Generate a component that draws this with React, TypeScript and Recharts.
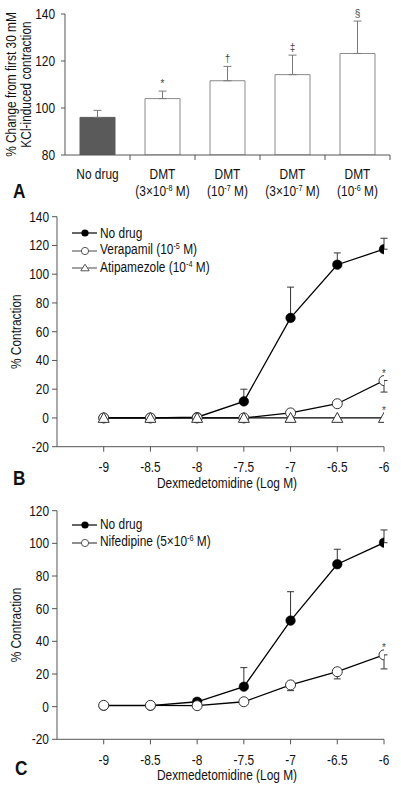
import React from 'react';
import {
  ComposedChart,
  Bar,
  Cell,
  Line,
  LineChart,
  XAxis,
  YAxis,
  ErrorBar,
  LabelList,
  Legend,
} from 'recharts';

const FONT = "'Liberation Sans', Arial, sans-serif";
const SX = 0.85;
const TXT = '#111';
const AX = '#555';

// ---------- Panel A data ----------
const aNames = ['No drug', 'DMT', 'DMT', 'DMT', 'DMT'];
const aDoseBase = ['', '(3×10', '(10', '(3×10', '(10'];
const aDoseExp = ['', '-8', '-7', '-7', '-6'];
const aValues = [96, 104, 111.6, 114.2, 123.2];
const aErrors = [3, 3.2, 6.1, 8.3, 13.8];
const aSig = ['', '*', '†', '‡', '§'];
const aTicks = [80, 100, 120, 140];

// ---------- Panels B / C data ----------
const doses = [-9, -8.5, -8, -7.5, -7, -6.5, -6];
const bYTicks = [-20, 0, 20, 40, 60, 80, 100, 120, 140];
const cYTicks = [-20, 0, 20, 40, 60, 80, 100, 120];

const bNoDrug = [0, 0, 0.5, 11.5, 69.6, 106.6, 117.4];
const bNoDrugErrUp = [null, null, null, 8.5, 21.4, 8.2, 7.6];
const bVerapamil = [0, 0, 0, 0, 3.5, 9.9, 26];
const bVerapamilErrDown = [null, null, null, null, null, null, 8];
const bVerapamilSig = ['', '', '', '', '', '', '*'];
const bAtipamezole = [0, 0, 0, 0, 0, 0, 0];
const bAtipamezoleSig = ['', '', '', '', '', '', '*'];

const cNoDrug = [0.6, 0.6, 3, 12.2, 52.7, 87.2, 100.4];
const cNoDrugErrUp = [null, null, null, 11.7, 17.7, 9.2, 7.8];
const cNifedipine = [0.8, 0.8, 0.6, 3, 13.3, 21.4, 31.7];
const cNifedipineErrDown = [null, null, null, null, 3.5, 4.4, 8.6];
const cNifedipineSig = ['', '', '', '', '', '', '*'];

const aTable = aNames.map((n, i) => ({
  key: i,
  value: aValues[i],
  err: [0, aErrors[i]],
  top: aValues[i] + aErrors[i],
  sig: aSig[i],
}));

const bTable = doses.map((d, i) => ({
  x: d,
  nd: bNoDrug[i],
  ndErr: bNoDrugErrUp[i] == null ? null : [0, bNoDrugErrUp[i]],
  ver: bVerapamil[i],
  verErr: bVerapamilErrDown[i] == null ? null : [bVerapamilErrDown[i], 0],
  verSig: bVerapamilSig[i],
  ati: bAtipamezole[i],
  atiSig: bAtipamezoleSig[i],
}));

const cTable = doses.map((d, i) => ({
  x: d,
  nd: cNoDrug[i],
  ndErr: cNoDrugErrUp[i] == null ? null : [0, cNoDrugErrUp[i]],
  nif: cNifedipine[i],
  nifErr: cNifedipineErrDown[i] == null ? null : [cNifedipineErrDown[i], 0],
  nifSig: cNifedipineSig[i],
}));

type LegendItem = { pre: string; exp?: string; post?: string; marker: 'filled' | 'open' | 'tri'; lineColor: string };
const bLegend: LegendItem[] = [
  { pre: 'No drug', marker: 'filled', lineColor: '#000' },
  { pre: 'Verapamil (10', exp: '-5', post: ' M)', marker: 'open', lineColor: '#666' },
  { pre: 'Atipamezole (10', exp: '-4', post: ' M)', marker: 'tri', lineColor: '#666' },
];
const cLegend: LegendItem[] = [
  { pre: 'No drug', marker: 'filled', lineColor: '#000' },
  { pre: 'Nifedipine (5×10', exp: '-6', post: ' M)', marker: 'open', lineColor: '#444' },
];

// ---------- helpers ----------
const CText = ({
  x,
  y,
  anchor = 'middle',
  size = 14,
  rotate = 0,
  children,
}: {
  x: number;
  y: number;
  anchor?: 'start' | 'middle' | 'end';
  size?: number;
  rotate?: number;
  children: React.ReactNode;
}) => (
  <text
    transform={`translate(${x} ${y})${rotate ? ` rotate(${rotate})` : ''} scale(${SX} 1)`}
    x={0}
    y={0}
    textAnchor={anchor}
    fontFamily={FONT}
    fontSize={size}
    fill={TXT}
  >
    {children}
  </text>
);

const SigLabel = (props: any) => {
  const { x, y, width, value } = props;
  if (!value) return null;
  const cx = (x ?? 0) + (width ?? 0) / 2;
  return (
    <text x={cx} y={y - 4} textAnchor="middle" fontFamily={FONT} fontSize={10} fill="#444" stroke="none">
      {value}
    </text>
  );
};

const ATick = (props: any) => {
  const { x, y, payload } = props;
  const i = payload.value as number;
  const half = typeof payload.offset === 'number' && payload.offset > 0 ? payload.offset : 32.5;
  return (
    <g>
      <line x1={x + half} x2={x + half} y1={y} y2={y + 5} stroke={AX} strokeWidth={1} />
      <CText x={x} y={y + 24}>{aNames[i]}</CText>
      {aDoseBase[i] ? (
        <CText x={x} y={y + 41}>
          {aDoseBase[i]}
          <tspan dy={-5} fontSize={8.5}>{aDoseExp[i]}</tspan>
          <tspan dy={5} fontSize={14}> M)</tspan>
        </CText>
      ) : null}
    </g>
  );
};

const YTick = (props: any) => {
  const { x, y, payload } = props;
  return (
    <CText x={x} y={y + 5} anchor="end">
      {String(payload.value)}
    </CText>
  );
};

const XTick = (props: any) => {
  const { x, y, payload } = props;
  return (
    <CText x={x} y={y + 20.3}>
      {String(payload.value)}
    </CText>
  );
};

const TriDot = (props: any) => {
  const { cx, cy, index } = props;
  if (cx == null || cy == null) return <g key={index} />;
  const s = 5.5;
  return (
    <polygon
      key={index}
      points={`${cx},${cy - s} ${cx - s},${cy + s * 0.8} ${cx + s},${cy + s * 0.8}`}
      fill="#fff"
      stroke="#333"
      strokeWidth={1}
    />
  );
};

const LegendMarker = ({ m }: { m: LegendItem['marker'] }) => {
  if (m === 'filled') return <circle cx={13} cy={9} r={3.6} fill="#000" />;
  if (m === 'open') return <circle cx={13} cy={9} r={3.6} fill="#fff" stroke="#555" strokeWidth={1} />;
  return <polygon points="13,5.2 8.8,11.8 17.2,11.8" fill="#fff" stroke="#555" strokeWidth={1} />;
};

const LegendBox = ({ items, rowH }: { items: LegendItem[]; rowH: number }) => (
  <div style={{ fontFamily: FONT, fontSize: 14, color: TXT, lineHeight: `${rowH}px` }}>
    {items.map((it, i) => (
      <div key={i} style={{ display: 'flex', alignItems: 'center', height: rowH, whiteSpace: 'nowrap' }}>
        <svg width={28} height={18} style={{ display: 'block', flex: 'none' }}>
          <line x1={0} x2={25} y1={9} y2={9} stroke={it.lineColor} strokeWidth={1.2} />
          <LegendMarker m={it.marker} />
        </svg>
        <span style={{ display: 'inline-block', transform: `scaleX(${SX})`, transformOrigin: 'left center' }}>
          {it.pre}
          {it.exp ? (
            <span style={{ fontSize: 8.5, position: 'relative', top: -5 }}>{it.exp}</span>
          ) : null}
          {it.post ?? ''}
        </span>
      </div>
    ))}
  </div>
);

const RotLabel = (lines: { text: string; x: number }[], size = 14) => (props: any) => {
  const vb = props.viewBox || {};
  const cy = (vb.y ?? 0) + (vb.height ?? 0) / 2;
  return (
    <g>
      {lines.map((l, i) => (
        <CText key={i} x={l.x} y={cy} rotate={-90} size={size}>
          {l.text}
        </CText>
      ))}
    </g>
  );
};

const XTitle = (props: any) => {
  const vb = props.viewBox || {};
  return (
    <CText x={227} y={(vb.y ?? 0) + 41}>
      Dexmedetomidine (Log M)
    </CText>
  );
};

const Letter = ({ ch, left, top }: { ch: string; left: number; top: number }) => (
  <div
    style={{
      position: 'absolute',
      left,
      top,
      fontFamily: FONT,
      fontWeight: 'bold',
      fontSize: 21,
      lineHeight: '21px',
      color: '#111',
      transform: 'scaleX(0.82)',
      transformOrigin: 'left top',
    }}
  >
    {ch}
  </div>
);

export default function App() {
  return (
    <div style={{ position: 'absolute', left: 0, top: 0, width: 401, height: 787, background: '#fff', overflow: 'hidden' }}>
      {/* Panel A */}
      <div style={{ position: 'absolute', left: 0, top: 0 }}>
        <ComposedChart width={401} height={200} data={aTable} margin={{ top: 14, right: 11, bottom: 0, left: 0 }}>
          <XAxis
            dataKey="key"
            type="category"
            height={45}
            axisLine={{ stroke: AX }}
            tickLine={false}
            tickSize={0}
            tickMargin={0}
            tick={<ATick />}
            interval={0}
          />
          <YAxis
            type="number"
            domain={[80, 140]}
            ticks={aTicks}
            width={65}
            axisLine={{ stroke: AX }}
            tickLine={{ stroke: AX }}
            tickSize={4}
            tickMargin={6}
            tick={<YTick />}
            allowDataOverflow
            label={{
              content: RotLabel(
                [
                  { text: '% Change from first 30 mM', x: 16 },
                  { text: 'KCl-induced contraction', x: 31 },
                ],
                14
              ),
            }}
          />
          <Bar dataKey="value" barSize={35} stroke="#8a8a8a" strokeWidth={1} isAnimationActive={false}>
            {aTable.map((d, i) => (
              <Cell key={i} fill={i === 0 ? '#5a5a5a' : '#ffffff'} stroke={i === 0 ? '#5a5a5a' : '#8a8a8a'} />
            ))}
            <ErrorBar dataKey="err" width={4} stroke="#7a7a7a" strokeWidth={1} />
          </Bar>
          <Line dataKey="top" stroke="none" dot={false} activeDot={false} legendType="none" isAnimationActive={false}>
            <LabelList dataKey="sig" content={<SigLabel />} />
          </Line>
        </ComposedChart>
      </div>
      <Letter ch="A" left={13} top={180.2} />

      {/* Panel B */}
      <div style={{ position: 'absolute', left: 0, top: 200 }}>
        <LineChart width={401} height={300} data={bTable} margin={{ top: 16.7, right: 17, bottom: 8.3, left: 0 }}>
          <XAxis
            dataKey="x"
            type="number"
            domain={[-9.5, -6]}
            ticks={doses}
            allowDataOverflow
            height={45}
            axisLine={{ stroke: AX }}
            tickLine={{ stroke: AX }}
            tickSize={5}
            tickMargin={0}
            tick={<XTick />}
            label={{ content: XTitle }}
          />
          <YAxis
            type="number"
            domain={[-20, 140]}
            ticks={bYTicks}
            width={57}
            axisLine={{ stroke: AX }}
            tickLine={{ stroke: AX }}
            tickSize={5}
            tickMargin={3}
            tick={<YTick />}
            label={{ content: RotLabel([{ text: '% Contraction', x: 21 }]) }}
          />
          <Legend
            layout="vertical"
            align="center"
            verticalAlign="middle"
            wrapperStyle={{ left: 72, top: 24.5, width: 200 }}
            content={() => <LegendBox items={bLegend} rowH={17.5} />}
          />
          <Line
            dataKey="nd"
            name="No drug"
            stroke="#000"
            strokeWidth={1.3}
            dot={{ r: 4.8, fill: '#000', stroke: '#000', strokeWidth: 0.5 }}
            activeDot={false}
            isAnimationActive={false}
          >
            <ErrorBar dataKey="ndErr" width={3.5} stroke="#333" strokeWidth={1} />
          </Line>
          <Line
            dataKey="ver"
            name="Verapamil"
            stroke="#000"
            strokeWidth={1.3}
            dot={{ r: 5, fill: '#fff', stroke: '#333', strokeWidth: 1 }}
            activeDot={false}
            isAnimationActive={false}
          >
            <ErrorBar dataKey="verErr" width={3.5} stroke="#333" strokeWidth={1} />
            <LabelList dataKey="verSig" content={<SigLabel />} />
          </Line>
          <Line
            dataKey="ati"
            name="Atipamezole"
            stroke="#000"
            strokeWidth={1.3}
            dot={<TriDot />}
            activeDot={false}
            isAnimationActive={false}
          >
            <LabelList dataKey="atiSig" content={<SigLabel />} />
          </Line>
        </LineChart>
      </div>
      <Letter ch="B" left={13} top={467.2} />

      {/* Panel C */}
      <div style={{ position: 'absolute', left: 0, top: 500 }}>
        <LineChart width={401} height={287} data={cTable} margin={{ top: 10.7, right: 17, bottom: 2.7, left: 0 }}>
          <XAxis
            dataKey="x"
            type="number"
            domain={[-9.5, -6]}
            ticks={doses}
            allowDataOverflow
            height={45}
            axisLine={{ stroke: AX }}
            tickLine={{ stroke: AX }}
            tickSize={5}
            tickMargin={0}
            tick={<XTick />}
            label={{ content: XTitle }}
          />
          <YAxis
            type="number"
            domain={[-20, 120]}
            ticks={cYTicks}
            width={57}
            axisLine={{ stroke: AX }}
            tickLine={{ stroke: AX }}
            tickSize={5}
            tickMargin={3}
            tick={<YTick />}
            label={{ content: RotLabel([{ text: '% Contraction', x: 21 }]) }}
          />
          <Legend
            layout="vertical"
            align="center"
            verticalAlign="middle"
            wrapperStyle={{ left: 72, top: 16.2, width: 200 }}
            content={() => <LegendBox items={cLegend} rowH={17.7} />}
          />
          <Line
            dataKey="nd"
            name="No drug"
            stroke="#000"
            strokeWidth={1.3}
            dot={{ r: 4.8, fill: '#000', stroke: '#000', strokeWidth: 0.5 }}
            activeDot={false}
            isAnimationActive={false}
          >
            <ErrorBar dataKey="ndErr" width={3.5} stroke="#333" strokeWidth={1} />
          </Line>
          <Line
            dataKey="nif"
            name="Nifedipine"
            stroke="#000"
            strokeWidth={1.3}
            dot={{ r: 5, fill: '#fff', stroke: '#333', strokeWidth: 1 }}
            activeDot={false}
            isAnimationActive={false}
          >
            <ErrorBar dataKey="nifErr" width={3.5} stroke="#333" strokeWidth={1} />
            <LabelList dataKey="nifSig" content={<SigLabel />} />
          </Line>
        </LineChart>
      </div>
      <Letter ch="C" left={15} top={757.2} />
    </div>
  );
}
